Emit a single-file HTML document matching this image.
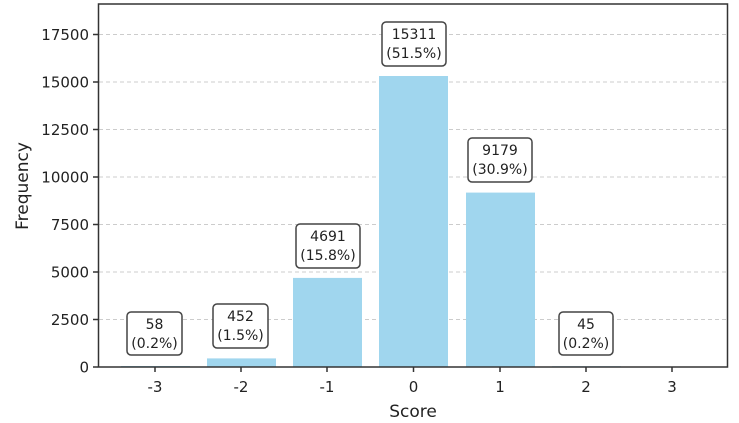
<!DOCTYPE html>
<html><head><meta charset="utf-8"><style>
html,body{margin:0;padding:0;background:#fff;}
svg{display:block;font-family:"DejaVu Sans","Liberation Sans",sans-serif;}
</style></head><body>
<svg width="739" height="423" viewBox="0 0 739 423">
<g stroke="#ccc" stroke-width="1" stroke-dasharray="4,3">
<line x1="99" x2="727" y1="34.5" y2="34.5"/>
<line x1="99" x2="727" y1="82" y2="82"/>
<line x1="99" x2="727" y1="129.5" y2="129.5"/>
<line x1="99" x2="727" y1="177" y2="177"/>
<line x1="99" x2="727" y1="224.5" y2="224.5"/>
<line x1="99" x2="727" y1="272" y2="272"/>
<line x1="99" x2="727" y1="319.5" y2="319.5"/>
</g>
<g fill="#a0d6ee">
<rect x="121" y="366" width="69" height="1"/>
<rect x="207" y="358.4" width="69" height="8.6"/>
<rect x="293" y="277.9" width="69" height="89.1"/>
<rect x="379" y="76" width="69" height="291"/>
<rect x="466" y="192.6" width="69" height="174.4"/>
<rect x="552" y="366.2" width="69" height="0.8"/>
</g>
<rect x="98.5" y="4" width="629" height="363" fill="none" stroke="#333" stroke-width="1.5"/>
<g stroke="#333" stroke-width="1.5">
<line x1="93" x2="98" y1="34.5" y2="34.5"/><line x1="93" x2="98" y1="82" y2="82"/>
<line x1="93" x2="98" y1="129.5" y2="129.5"/><line x1="93" x2="98" y1="177" y2="177"/>
<line x1="93" x2="98" y1="224.5" y2="224.5"/><line x1="93" x2="98" y1="272" y2="272"/>
<line x1="93" x2="98" y1="319.5" y2="319.5"/><line x1="93" x2="98" y1="367" y2="367"/>
<line x1="155" x2="155" y1="367" y2="372"/><line x1="241" x2="241" y1="367" y2="372"/>
<line x1="327" x2="327" y1="367" y2="372"/><line x1="413.5" x2="413.5" y1="367" y2="372"/>
<line x1="500" x2="500" y1="367" y2="372"/><line x1="586" x2="586" y1="367" y2="372"/>
<line x1="672" x2="672" y1="367" y2="372"/>
</g>
<g font-size="15" fill="#222" text-anchor="end">
<text x="89" y="40">17500</text><text x="89" y="87.5">15000</text>
<text x="89" y="135">12500</text><text x="89" y="182.5">10000</text>
<text x="89" y="230">7500</text><text x="89" y="277.5">5000</text>
<text x="89" y="325">2500</text><text x="89" y="372.5">0</text>
</g>
<g font-size="15" fill="#222" text-anchor="middle">
<text x="155" y="392">-3</text><text x="241" y="392">-2</text><text x="327" y="392">-1</text>
<text x="413.5" y="392">0</text><text x="500" y="392">1</text><text x="586" y="392">2</text><text x="672" y="392">3</text>
<text x="413" y="417" font-size="17">Score</text>
<text transform="translate(28,186) rotate(-90)" font-size="17">Frequency</text>
</g>
<g fill="#fff" stroke="#444" stroke-width="1.5">
<rect x="127" y="312" width="55" height="43" rx="4"/>
<rect x="213" y="304" width="55" height="44" rx="4"/>
<rect x="296" y="224" width="64" height="44" rx="4"/>
<rect x="382" y="22" width="64" height="44" rx="4"/>
<rect x="468" y="138" width="64" height="44" rx="4"/>
<rect x="559" y="312" width="54" height="43" rx="4"/>
</g>
<g font-size="14" fill="#222" text-anchor="middle">
<text x="154.5" y="329">58</text><text x="154.5" y="348">(0.2%)</text>
<text x="240.5" y="321">452</text><text x="240.5" y="340">(1.5%)</text>
<text x="328" y="241">4691</text><text x="328" y="260">(15.8%)</text>
<text x="414" y="39">15311</text><text x="414" y="58">(51.5%)</text>
<text x="500" y="155">9179</text><text x="500" y="174">(30.9%)</text>
<text x="586" y="329">45</text><text x="586" y="348">(0.2%)</text>
</g>
</svg>
</body></html>
